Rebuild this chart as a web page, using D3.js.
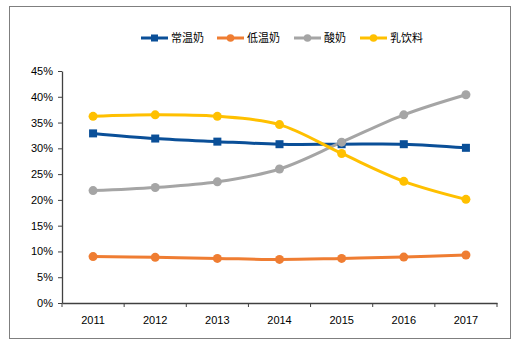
<!DOCTYPE html>
<html>
<head>
<meta charset="utf-8">
<script src="https://cdn.jsdelivr.net/npm/d3@7"></script>
<style>
  body { margin: 0; background: #fff; }
  text { font-family: "Liberation Sans Narrow", "Liberation Sans", "Noto Sans CJK SC", sans-serif; }
</style>
</head>
<body>
<div id="chart"></div>
<script>
// data
var years = ["2011", "2012", "2013", "2014", "2015", "2016", "2017"];
var names = ["常温奶", "低温奶", "酸奶", "乳饮料"];
var changwen = [32.9, 31.9, 31.3, 30.8, 30.8, 30.8, 30.1];
var diwen = [9.0, 8.85, 8.65, 8.45, 8.65, 8.9, 9.3];
var suannai = [21.8, 22.4, 23.5, 26.0, 31.2, 36.5, 40.4];
var ruyinliao = [36.2, 36.5, 36.2, 34.6, 29.0, 23.6, 20.1];
var yTicks = [0, 5, 10, 15, 20, 25, 30, 35, 40, 45];

var series = [
  {name: names[0], values: changwen, color: "#0a4f98", marker: "square"},
  {name: names[1], values: diwen, color: "#ef7d32", marker: "circle"},
  {name: names[2], values: suannai, color: "#a5a5a5", marker: "circle"},
  {name: names[3], values: ruyinliao, color: "#ffc000", marker: "circle"}
];

var W = 518, H = 344;
var svg = d3.select("#chart").append("svg")
    .attr("width", W)
    .attr("height", H);

// outer frame
svg.append("rect")
  .attr("x", 9.5).attr("y", 6.5)
  .attr("width", 501).attr("height", 332)
  .attr("fill", "none")
  .attr("stroke", "#7f7f7f")
  .attr("stroke-width", 1);

var plotL = 62, plotR = 497, plotT = 71, plotB = 303;

var x = d3.scaleBand().domain(years).range([plotL, plotR]);
var y = d3.scaleLinear().domain([0, 45]).range([plotB, plotT]);

// y axis
var yAxis = svg.append("g")
  .attr("transform", "translate(" + plotL + ",0)")
  .call(d3.axisLeft(y).tickValues(yTicks).tickSize(4).tickSizeOuter(0).tickFormat(function(d) { return d + "%"; }));
yAxis.selectAll("text").attr("font-size", 11).attr("fill", "#000").attr("dx", -2);

// x axis, ticks at category borders
var xAxis = svg.append("g")
  .attr("transform", "translate(0," + plotB + ")")
  .call(d3.axisBottom(x).tickSize(0).tickSizeOuter(0));
xAxis.selectAll("text").attr("font-size", 11).attr("fill", "#000").attr("dy", "1.6em");
xAxis.selectAll(".tick-b")
  .data(years.concat(["end"]))
  .enter().append("line")
    .attr("x1", function(d, i) { return plotL + i * x.bandwidth(); })
    .attr("x2", function(d, i) { return plotL + i * x.bandwidth(); })
    .attr("y1", 0).attr("y2", 4)
    .attr("stroke", "#404040");

svg.selectAll(".domain").attr("stroke", "#404040").attr("stroke-width", 1.3);
svg.selectAll(".tick line").attr("stroke", "#404040");

var cx = function(i) { return x(years[i]) + x.bandwidth() / 2; };

var line = d3.line()
  .x(function(d, i) { return cx(i); })
  .y(function(d) { return y(d); })
  .curve(d3.curveCatmullRom.alpha(0.5));

// lines (draw in legend order)
series.forEach(function(s) {
  svg.append("path")
    .datum(s.values)
    .attr("d", line)
    .attr("fill", "none")
    .attr("stroke", s.color)
    .attr("stroke-width", 3);
});

// markers
series.forEach(function(s) {
  if (s.marker === "square") {
    svg.selectAll(null).data(s.values).enter().append("rect")
      .attr("x", function(d, i) { return cx(i) - 4; })
      .attr("y", function(d) { return y(d) - 4; })
      .attr("width", 8).attr("height", 8)
      .attr("fill", s.color);
  } else {
    svg.selectAll(null).data(s.values).enter().append("circle")
      .attr("cx", function(d, i) { return cx(i); })
      .attr("cy", function(d) { return y(d); })
      .attr("r", 4.5)
      .attr("fill", s.color);
  }
});

// legend
var legX = [141, 217, 294, 360];
var legY = 38;
series.forEach(function(s, i) {
  var g = svg.append("g").attr("transform", "translate(" + legX[i] + "," + legY + ")");
  g.append("line").attr("x1", 0).attr("x2", 27).attr("y1", 0).attr("y2", 0)
    .attr("stroke", s.color).attr("stroke-width", 3);
  if (s.marker === "square") {
    g.append("rect").attr("x", 10).attr("y", -3.5).attr("width", 7).attr("height", 7).attr("fill", s.color);
  } else {
    g.append("circle").attr("cx", 13.5).attr("cy", 0).attr("r", 3.8).attr("fill", s.color);
  }
  g.append("text").attr("x", 30).attr("y", 4)
    .attr("font-size", 11)
    .attr("font-family", "'Noto Sans CJK SC', sans-serif")
    .attr("fill", "#000")
    .text(s.name);
});
</script>
</body>
</html>
